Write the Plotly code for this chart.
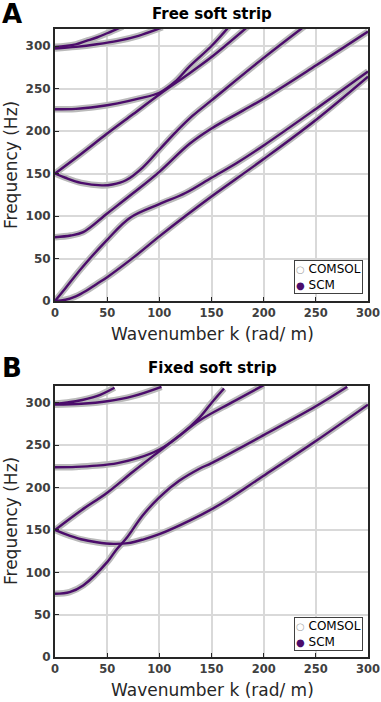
import plotly.graph_objects as go

# ---- Free soft strip (panel A): branches ----
free_k1 = [0, 10, 20, 30, 40, 50, 75, 100, 125, 150, 200, 250, 300]
free_f1 = [0, 1.5, 5.5, 12, 20, 28, 51, 76, 100, 123, 167, 213, 264]
free_k2 = [0, 10, 25, 50, 72, 100, 125, 150, 175, 200, 250, 300]
free_f2 = [0, 15, 38, 72, 98, 114, 127, 145, 163, 183, 226, 270]
free_k3 = [0, 15, 27, 50, 75, 100, 129, 150, 180, 200, 250, 300]
free_f3 = [75, 77, 81, 103, 127, 152, 185, 203, 224, 238, 277, 317]
free_k4 = [0, 10, 25, 45, 55, 68, 84, 100, 116, 132, 150, 200, 240]
free_f4 = [150, 145, 139, 136, 137, 142, 157, 178, 199, 218, 236, 286, 324]
free_k5 = [0, 25, 50, 75, 100, 129, 150, 185]
free_f5 = [150, 173, 197, 220, 243, 268, 287, 323]
free_k6 = [0, 20, 40, 60, 80, 100, 115, 129, 150, 167]
free_f6 = [225.5, 226, 228.5, 232.5, 238, 245, 258, 276, 300, 323]
free_k7 = [0, 10, 20, 30, 40, 50, 65]
free_f7 = [299, 300, 302, 306, 310, 315, 323]
free_k8 = [0, 20, 40, 60, 80, 103]
free_f8 = [297, 299, 302, 306, 312, 322]

# ---- Fixed soft strip (panel B) ----
fixed_k1 = [0, 14, 27, 50, 59, 68, 84, 100, 119, 138, 150, 200, 250, 280]
fixed_f1 = [74.6, 76.6, 84.5, 112, 127, 139.5, 167, 188.6, 208, 222, 229, 262, 296, 319]
fixed_k2 = [0, 10, 25, 40, 56, 70, 85, 100, 129, 158, 200, 250, 300]
fixed_f2 = [150, 145, 139, 135.5, 133.6, 134.5, 139, 145, 161, 180, 214, 255, 298]
fixed_k3 = [0, 25, 50, 75, 100, 120, 138, 170, 200]
fixed_f3 = [150, 173, 194, 219, 243, 262, 279, 301, 321]
fixed_k4 = [0, 20, 40, 60, 80, 100, 120, 138, 150, 162]
fixed_f4 = [224, 224.5, 226, 229, 235, 245, 262, 282, 300, 317]
fixed_k5 = [0, 20, 40, 57]
fixed_f5 = [299, 302, 308, 318]
fixed_k6 = [0, 25, 50, 75, 102]
fixed_f6 = [298, 299, 302, 308, 319]

free_branches = [(free_k1, free_f1), (free_k2, free_f2), (free_k3, free_f3), (free_k4, free_f4),
                 (free_k5, free_f5), (free_k6, free_f6), (free_k7, free_f7), (free_k8, free_f8)]
fixed_branches = [(fixed_k1, fixed_f1), (fixed_k2, fixed_f2), (fixed_k3, fixed_f3),
                  (fixed_k4, fixed_f4), (fixed_k5, fixed_f5), (fixed_k6, fixed_f6)]

comsol_color = "#bababa"
scm_color = "#4b0c6b"
font = "DejaVu Sans"

fig = go.Figure()

for branches, xa, ya in [(free_branches, "x", "y"), (fixed_branches, "x2", "y2")]:
    # COMSOL halo first, SCM on top
    for k, f in branches:
        fig.add_trace(go.Scatter(x=k, y=f, xaxis=xa, yaxis=ya, mode="lines",
                                 line=dict(color=comsol_color, width=6.5, shape="spline"),
                                 showlegend=False, hoverinfo="skip"))
    for k, f in branches:
        fig.add_trace(go.Scatter(x=k, y=f, xaxis=xa, yaxis=ya, mode="lines",
                                 line=dict(color=scm_color, width=2.4, shape="spline"),
                                 showlegend=False))

W, H = 381, 702
x_dom = [55 / W, 368 / W]
axis_common = dict(range=[0, 300], dtick=50, showline=True, linecolor="#262626", linewidth=2,
                   mirror=True, ticks="inside", ticklen=4, tickcolor="#262626",
                   showgrid=True, gridcolor="#d9d9d9", gridwidth=1.5, zeroline=False,
                   automargin=False,
                   tickfont=dict(family=font, size=11.5, color="#404040", weight="bold"),
                   domain=x_dom)
yaxis_common = dict(range=[0, 320], dtick=50, showline=True, linecolor="#262626", linewidth=2,
                    mirror=True, ticks="inside", ticklen=4, tickcolor="#262626",
                    showgrid=True, gridcolor="#d9d9d9", gridwidth=1.5, zeroline=False,
                    automargin=False,
                    tickfont=dict(family=font, size=12, color="#404040", weight="bold"))

fig.update_layout(
    width=W, height=H,
    margin=dict(l=0, r=0, t=0, b=0, autoexpand=False),
    paper_bgcolor="white", plot_bgcolor="white",
    showlegend=False,
    xaxis=dict(axis_common, anchor="y"),
    yaxis=dict(yaxis_common, anchor="x", domain=[1 - 301 / H, 1 - 29 / H]),
    xaxis2=dict(axis_common, anchor="y2"),
    yaxis2=dict(yaxis_common, anchor="x2", domain=[1 - 657 / H, 1 - 386 / H]),
)


def px_y(p):
    return 1 - p / H


def note(text, x, y, size, color="black", angle=0):
    return dict(text=text, x=x / W, y=px_y(y), xref="paper", yref="paper",
                xanchor="center", yanchor="middle", textangle=angle, showarrow=False,
                font=dict(family=font, size=size, color=color))


annots = []
for letter, title, ty, xt_y, yc in [("A", "Free soft strip", 14, 334, 165),
                                     ("B", "Fixed soft strip", 368, 690, 521)]:
    annots.append(note("<b>" + letter + "</b>", 12, ty, 26))
    annots.append(note("<b>" + title + "</b>", 212, ty, 15))
    annots.append(note("Wavenumber k (rad/ m)", 212, xt_y, 17, "#262626"))
    annots.append(note("Frequency (Hz)", 11, yc, 17, "#262626", -90))

legend_text = ("<span style='color:#a8a8a8;font-size:10px'>○</span> COMSOL<br>"
               "<span style='color:" + scm_color + ";font-size:10px'>●</span> SCM")
for bottom in [294, 651]:
    annots.append(dict(text=legend_text, x=363 / W, y=px_y(bottom), xref="paper", yref="paper",
                       xanchor="right", yanchor="bottom", align="left", showarrow=False,
                       bgcolor="white", bordercolor="#404040", borderwidth=1, borderpad=1,
                       font=dict(family=font, size=12, color="black")))

fig.update_layout(annotations=annots)
fig.write_html("out.html", config={"displayModeBar": False},
               post_script="document.body.style.margin='0px';")
